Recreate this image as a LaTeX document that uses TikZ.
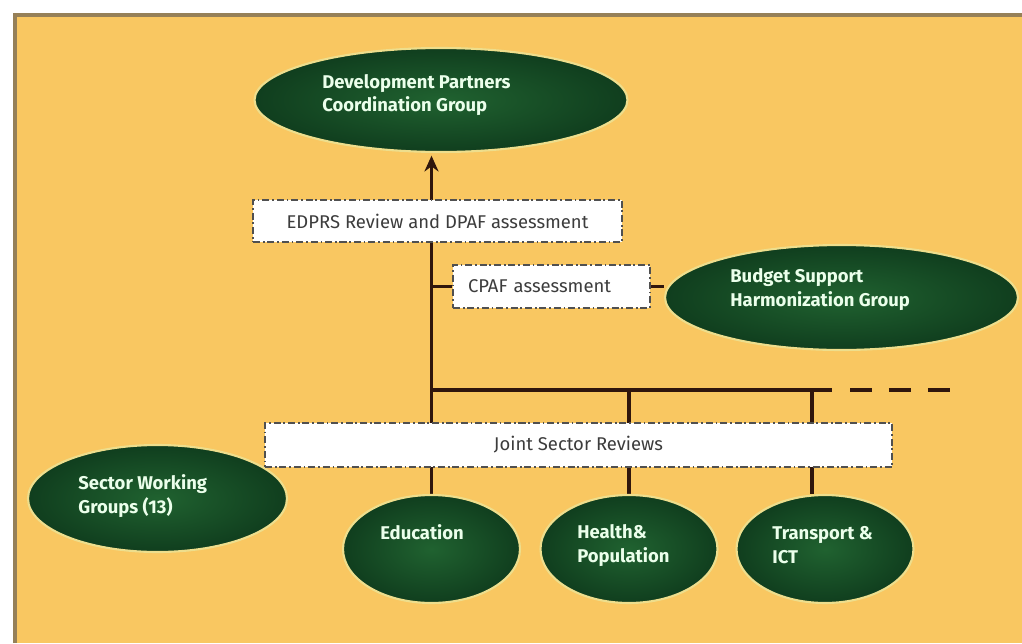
\documentclass[tikz,border=0pt]{standalone}
\usepackage{fontspec}
\setmainfont{Fira Sans}
\usetikzlibrary{arrows.meta,shapes.geometric,backgrounds}

\definecolor{panelbg}{RGB}{249,199,97}
\definecolor{panelrim}{RGB}{150,128,88}
\definecolor{grpin}{RGB}{32,98,48}
\definecolor{grpout}{RGB}{16,62,30}
\definecolor{grphalo}{RGB}{238,222,140}
\definecolor{linkcol}{RGB}{48,22,12}
\definecolor{boxrim}{RGB}{80,80,80}
\definecolor{boxtext}{RGB}{60,60,60}

\begin{document}
\begin{tikzpicture}[
    x=0.02cm, y=-0.02cm,
    group/.style={ellipse, draw=grphalo, line width=1.2pt, shading=radial,
        inner color=grpin, outer color=grpout, inner sep=0pt},
    smallgroup/.style={group, minimum width=3.54cm, minimum height=2.16cm},
    grouptext/.style={anchor=west, inner sep=0pt, align=left, text=white!92!green,
        font=\fontsize{10.5}{13.6}\selectfont\bfseries},
    review/.style={rectangle, draw=boxrim, fill=white, line width=0.9pt,
        dash pattern=on 4pt off 1.6pt on 1pt off 1.6pt, text=boxtext,
        font=\fontsize{10.5}{12}\selectfont, inner sep=0pt},
    link/.style={draw=linkcol, line width=2.2pt}
]

\useasboundingbox (0,0) rectangle (1022,643);

% Panel
\begin{pgfonlayer}{background}
\fill[white] (0,0) rectangle (1022,643);
\fill[panelbg] (15,15) rectangle (1022,643);
\draw[panelrim, line width=2pt] (15,643) -- (15,15) -- (1022,15);
\end{pgfonlayer}

% Coordination groups
\node[group, minimum width=7.46cm, minimum height=2.08cm] (dpcg) at (441,100) {};
\node[grouptext] (dpcgtext) at (322,95) {Development Partners\\Coordination Group};

\node[group, minimum width=7.06cm, minimum height=2.1cm] (bshg) at (841.5,297.5) {};
\node[grouptext] (bshgtext) at (730,289.5) {Budget Support\\Harmonization Group};

% Sector working groups
\node[group, minimum width=5.18cm, minimum height=2.14cm] (swg) at (157.5,498.5) {};
\node[grouptext] (swgtext) at (78,496.5) {Sector Working\\Groups (13)};

\node[smallgroup] (edu) at (431.5,549) {};
\node[grouptext] (edutext) at (380,532) {Education};
\node[smallgroup] (hp) at (629,549) {};
\node[grouptext] (hptext) at (577,545.5) {Health\&\\Population};
\node[smallgroup] (tr) at (825,549) {};
\node[grouptext] (trtext) at (772,545.5) {Transport \&\\ICT};

% Assessments
\node[review, minimum width=7.38cm, minimum height=0.84cm] (edprs) at (437.5,221) {EDPRS Review and DPAF assessment};
\node[review, minimum width=3.94cm, minimum height=0.86cm, text width=3.34cm, align=left] (cpaf) at (551.5,286.5) {CPAF assessment};
\node[review, minimum width=12.54cm, minimum height=0.88cm] (jsr) at (578.5,445) {Joint Sector Reviews};

% Links
\begin{pgfonlayer}{background}
\coordinate (bus) at (430,390);
\coordinate (busend) at (832,390);
\coordinate (busdash) at (850,390);
\coordinate (busfar) at (951,390);
\coordinate (trtop) at (812,390);

\draw[link, -{Stealth[length=9pt,width=8pt]}, shorten >=1.5pt] (edu.north) -- (edu.north |- dpcg.south);
\draw[link] (edu.north |- cpaf.west) -- (cpaf.west);
\draw[link] (cpaf.east) -- (cpaf.east -| bshg.west);
\draw[link] (edu.north |- bus) -- (busend);
\draw[link, dash pattern=on 0.44cm off 0.34cm] (busdash) -- (busfar);
\draw[link] (hp.north |- bus) -- (hp.north);
\draw[link] (trtop) -- (trtop |- tr.north);
\end{pgfonlayer}

\end{tikzpicture}
\end{document}
